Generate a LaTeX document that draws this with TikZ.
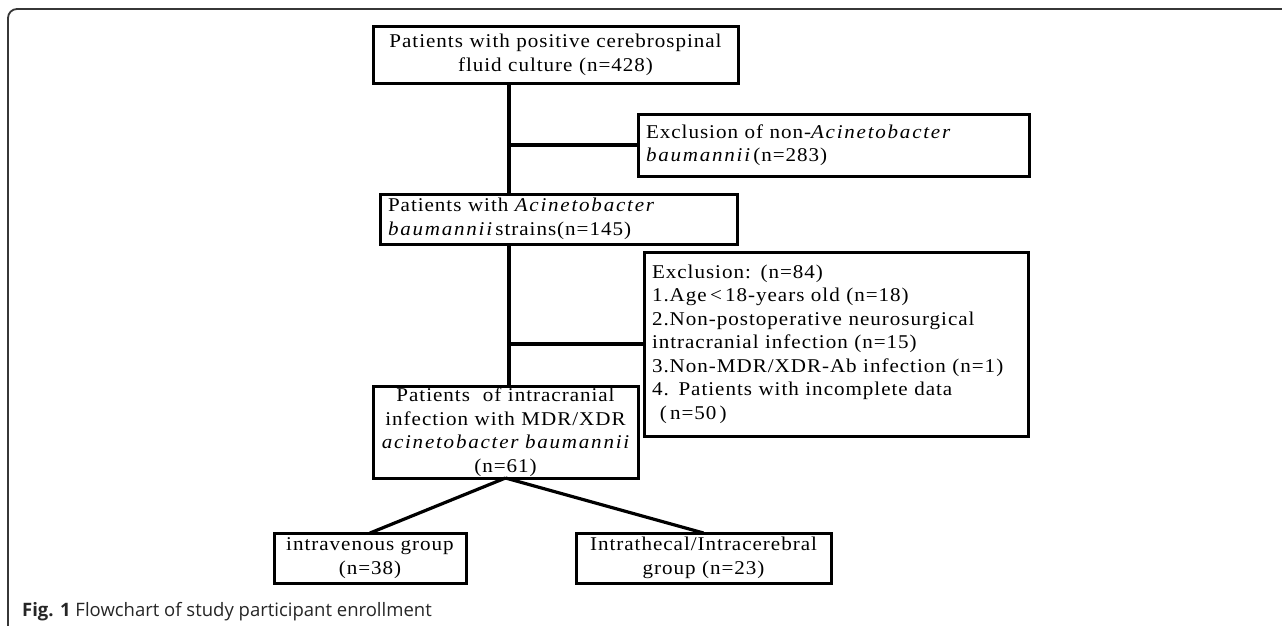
\documentclass[tikz,border=0pt]{standalone}
\usepackage{fontspec}
\setmainfont{Liberation Serif}[FakeStretch=1.08,LetterSpace=5,WordSpace=1.8]
\newfontfamily\capfont{Open Sans}
\newcommand{\species}[1]{{\itshape\addfontfeatures{LetterSpace=9}#1}}
\usepackage{xcolor}
\definecolor{framegray}{RGB}{55,55,55}
\usepackage{tikz}
\usetikzlibrary{positioning}

\begin{document}
\begin{tikzpicture}[x=1pt,y=-1pt,
  font=\fontsize{19.5}{23.5}\selectfont,
  flowbox/.style={draw,line width=3pt,inner ysep=0pt,inner xsep=8pt,outer sep=0pt},
  link/.style={line width=3.2pt}]
\useasboundingbox (0,0) rectangle (1282,626);
\draw[framegray,line width=1.8pt,rounded corners=9pt] (1282,9) -- (8,9) -- (8,626);

\node[flowbox,text width=349pt,minimum height=56pt,align=center] (cultures) at (555.5,55)
  {Patients with positive cerebrospinal\\fluid culture (n=428)};
\node[flowbox,text width=375pt,minimum height=62pt,align=left] (exclab) at (833.5,145)
  {Exclusion of non-\species{Acinetobacter}\\\species{baumannii}\,(n=283)};
\node[flowbox,text width=341pt,minimum height=50pt,align=left] (abstrains) at (558.5,219)
  {Patients with \species{Acinetobacter}\\\species{baumannii}\,strains(n=145)};
\node[flowbox,text width=368pt,minimum height=184pt,align=left] (exclrest) at (836,344)
  {Exclusion: (n=84)\\
   1.Age\,<\,18-years old (n=18)\\
   2.Non-postoperative neurosurgical\\
   intracranial infection (n=15)\\
   3.Non-MDR/XDR-Ab infection (n=1)\\
   4. Patients with incomplete data\\
   \hspace{0.4em}(\,n=50\,)};
\node[flowbox,text width=249pt,minimum height=92pt,align=center] (mdrxdr) at (505.5,432)
  {Patients\ \ of intracranial\\infection with MDR/XDR\\\species{acinetobacter baumannii}\\(n=61)};
\node[flowbox,text width=176pt,minimum height=50pt,align=center] (ivgroup) at (370,558)
  {intravenous group\\(n=38)};
\node[flowbox,text width=239pt,minimum height=50pt,align=center] (itgroup) at (703.5,558)
  {Intrathecal/Intracerebral\\group (n=23)};

\coordinate (trunk) at (509,0);
\draw[link] (cultures.south -| trunk) -- (abstrains.north -| trunk);
\draw[link] (abstrains.south -| trunk) -- (mdrxdr.north -| trunk);
\draw[link] (trunk |- exclab.west) -- (exclab.west);
\draw[link] (trunk |- exclrest.west) -- (exclrest.west);
\draw[link] (mdrxdr.south) -- (ivgroup.north);
\draw[link] (mdrxdr.south) -- (itgroup.north);

\node[anchor=base west,inner sep=0pt,font=\capfont\fontsize{18.5}{22}\selectfont,text=black!85] (caption) at (22,616)
  {\textbf{Fig. 1} Flowchart of study participant enrollment};
\end{tikzpicture}
\end{document}
